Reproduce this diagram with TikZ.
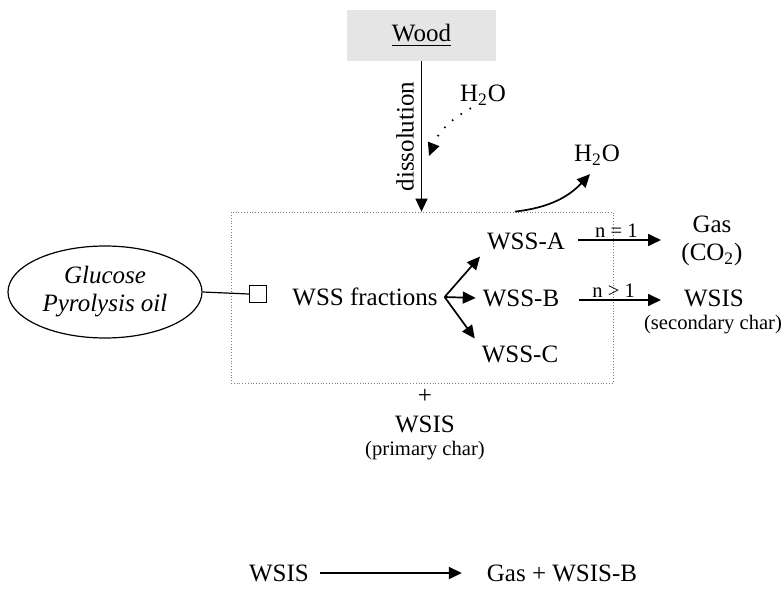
\documentclass[tikz,border=0pt]{standalone}
\usepackage{fontspec}
\setmainfont{Liberation Serif}
\usetikzlibrary{arrows.meta, positioning, shapes.geometric}

\begin{document}
\begin{tikzpicture}[x=0.5pt, y=-0.5pt,
    txt/.style={font=\fontsize{12.5}{14}\selectfont},
    sml/.style={font=\fontsize{10.3}{12}\selectfont},
    arr/.style={-{Triangle[length=6.5pt,width=6pt]}, line width=0.85pt}]
    \useasboundingbox (0,0) rectangle (784,594);

    % Wood on top
    \node[txt, fill=gray!20, minimum width=74.5pt, minimum height=25.5pt] (wood) at (421.5,35.5) {\underline{Wood}};

    % Dotted reactor box
    \node[draw=gray, densely dotted, line width=0.4pt, minimum width=191pt, minimum height=85.5pt] (box) at (422,297.5) {};

    % Dissolution arrow
    \draw[arr] (wood.south) -- (wood.south |- box.north)
        node[midway, txt, rotate=90, anchor=south] {dissolution};

    % Water in
    \node[txt] (h2oin) at (483,95) {H\textsubscript{2}O};
    \coordinate (dtip) at (429,156);
    \draw[arr, dash pattern=on 0.8pt off 4.5pt] ([xshift=-6pt,yshift=2pt]h2oin.south) to[bend right=20] (dtip);

    % Feed
    \node[draw, ellipse, font=\fontsize{12.5}{14}\selectfont\itshape, align=center, line width=0.6pt, minimum width=97pt, minimum height=46pt, inner sep=0pt] (feed) at (105,292) {Glucose\\Pyrolysis oil};
    \node[draw, line width=0.6pt, minimum size=8.5pt, inner sep=0pt] (sq) at (258,294) {};
    \draw[line width=0.6pt] (feed.east) -- (sq.west);

    % WSS fractions
    \node[txt] (frac) at (365,297) {WSS fractions};
    \node[txt] (wssa) at (526,241) {WSS-A};
    \node[txt] (wssb) at (521,298) {WSS-B};
    \node[txt] (wssc) at (520,354) {WSS-C};
    \draw[arr] (frac.east) -- (wssa.south west);
    \draw[arr] (frac.east) -- (wssb.west);
    \draw[arr] (frac.east) -- (wssc.north west);

    % Water out
    \node[txt] (h2oout) at (597,155) {H\textsubscript{2}O};
    \draw[arr] ([xshift=-5.5pt]wssa.north |- box.north) to[bend right=20] ([xshift=-3.5pt,yshift=-1pt]h2oout.south);

    % Products
    \node[txt, align=center] (gas) at (712,241) {Gas\\(CO\textsubscript{2})};
    \node[txt] (wsis) at (714,298) {WSIS};
    \node[sml] (sec) at (713,325) {(secondary char)};
    \coordinate (gtip) at (661,240);
    \coordinate (wtip) at (661,300);
    \draw[arr, shorten <=3pt] (wssa.east |- gtip) -- (gtip) node[midway, above, sml, inner sep=1pt] {n = 1};
    \draw[arr, shorten <=6.5pt] (wssb.east |- wtip) -- (wtip) node[midway, above, sml, inner sep=1pt] {n > 1};

    % Primary char
    \node[txt] (plus) at (425,396) {+};
    \node[txt] (wsisp) at (425,424) {WSIS};
    \node[sml] (prim) at (425,451) {(primary char)};

    % Bottom reaction
    \node[txt] (wsisb) at (279,573) {WSIS};
    \node[txt] (gasb) at (562,573) {Gas + WSIS-B};
    \draw[arr, shorten <=2pt, shorten >=9pt] (wsisb) -- (gasb);
\end{tikzpicture}
\end{document}
